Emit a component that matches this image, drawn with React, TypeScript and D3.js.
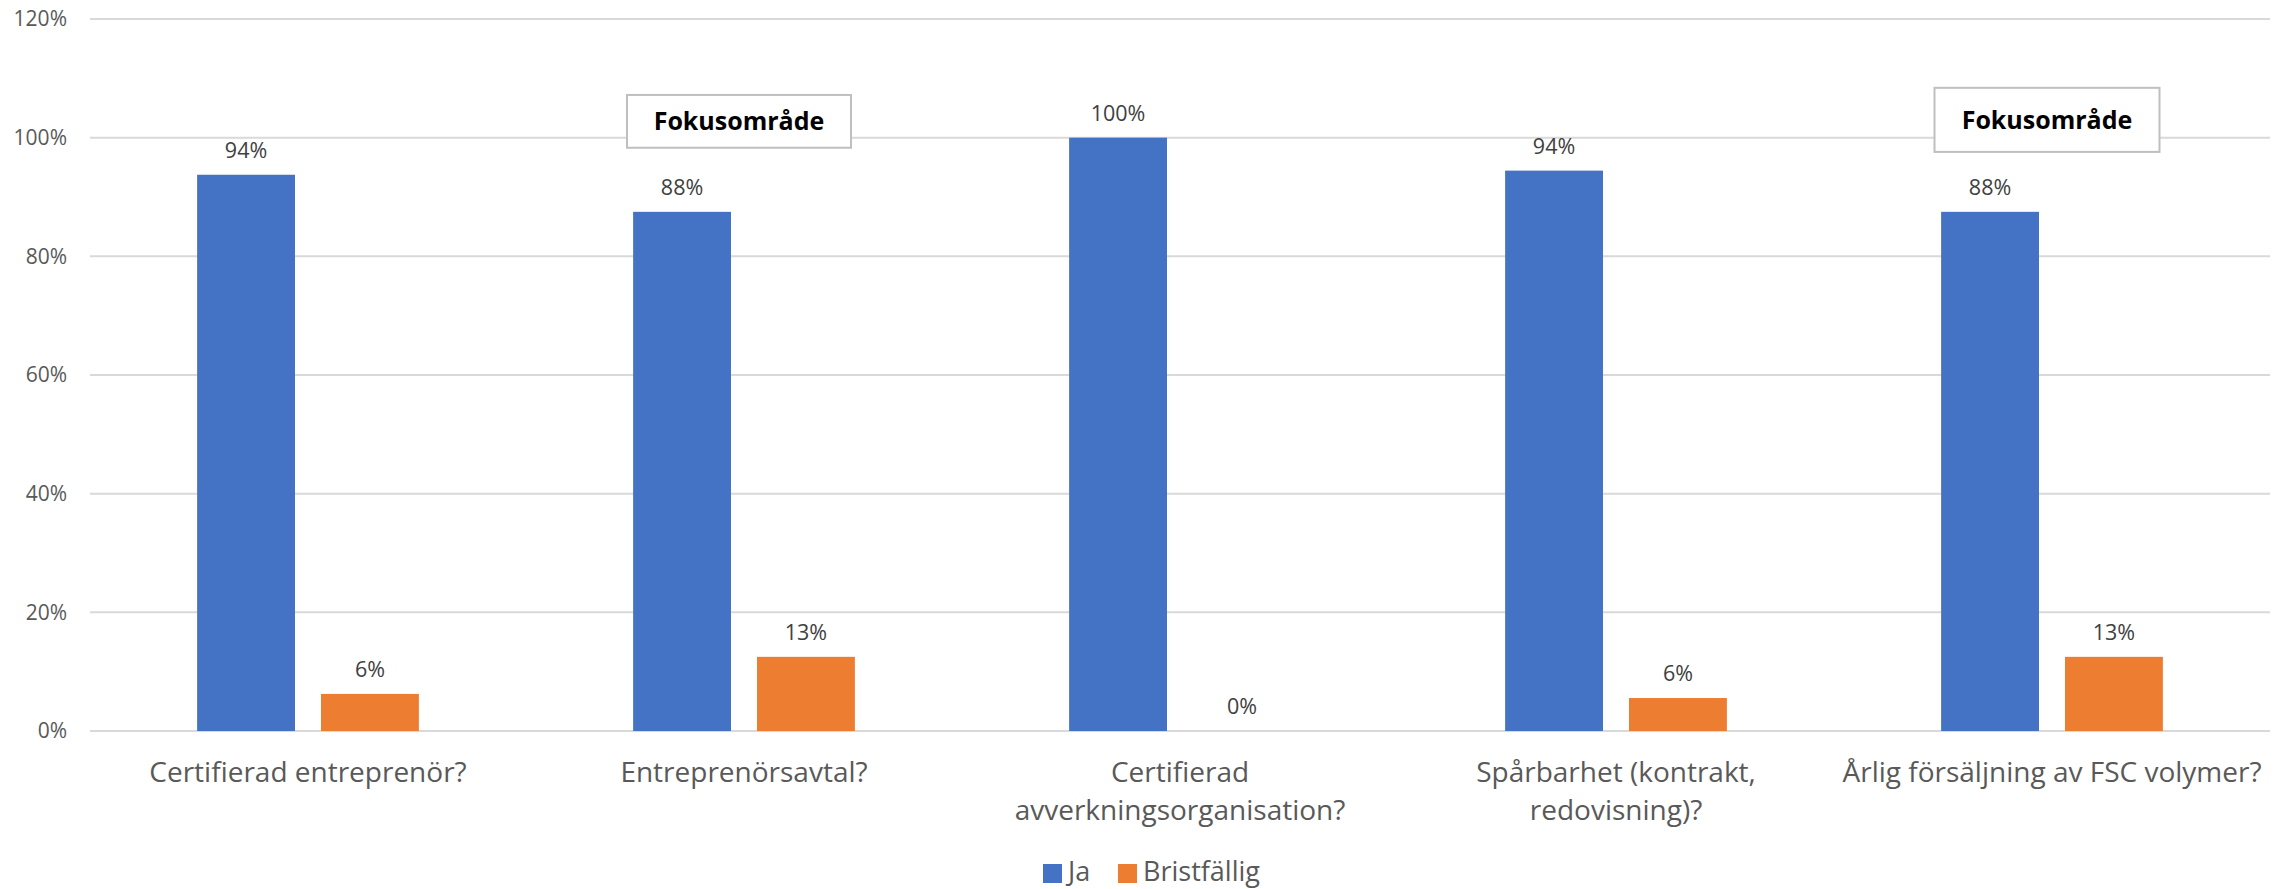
import React, { useEffect } from "react";
import * as d3 from "d3";

const categories: string[][] = [
  ["Certifierad entreprenör?"],
  ["Entreprenörsavtal?"],
  ["Certifierad", "avverkningsorganisation?"],
  ["Spårbarhet (kontrakt,", "redovisning)?"],
  ["Årlig försäljning av FSC volymer?"],
];
const jaValues = [15 / 16, 7 / 8, 1.0, 17 / 18, 7 / 8];
const bristValues = [1 / 16, 1 / 8, 0, 1 / 18, 1 / 8];
const jaLabels = ["94%", "88%", "100%", "94%", "88%"];
const bristLabels = ["6%", "13%", "0%", "6%", "13%"];
const yTicks = [0, 0.2, 0.4, 0.6, 0.8, 1.0, 1.2];
const seriesNames = ["Ja", "Bristfällig"];
const seriesColors = ["#4472C4", "#ED7D31"];
// annotation boxes: category index, top/bottom values
const annotations = [
  { cat: 1, text: "Fokusområde", top: 1.072, bottom: 0.983, width: 224 },
  { cat: 4, text: "Fokusområde", top: 1.084, bottom: 0.976, width: 225 },
];

const W = 2292;
const H = 889;
const FONT = "'Open Sans', sans-serif";

export default function App() {
  useEffect(() => {
    document.body.style.margin = "0";
  }, []);
  const left = 90;
  const right = 2270;
  const y = d3.scaleLinear().domain([0, 1.2]).range([731, 19]);
  const x = d3
    .scaleBand<number>()
    .domain(categories.map((_, i) => i))
    .range([left, right]);
  const bw = x.bandwidth();
  const barW = bw * 0.2245;
  const gap = 26;
  const series = [jaValues, bristValues];
  const labels = [jaLabels, bristLabels];
  const fmt = d3.format(".0%");

  return (
    <svg width={W} height={H} style={{ display: "block", background: "#fff" }}>
      {yTicks.map((t) => (
        <g key={t}>
          <line x1={left} x2={right} y1={y(t)} y2={y(t)} stroke="#d9d9d9" strokeWidth={2} />
          <text
            x={67}
            y={y(t)}
            dy="0.35em"
            textAnchor="end"
            fontFamily={FONT}
            fontSize={21}
            fill="#595959"
          >
            {fmt(t)}
          </text>
        </g>
      ))}
      {categories.map((_, i) => {
        const cx = (x(i) as number) + bw / 2;
        return (
          <g key={i}>
            {series.map((vals, s) => {
              const bx = s === 0 ? cx - gap / 2 - barW : cx + gap / 2;
              return (
                <g key={s}>
                  <rect
                    x={bx}
                    y={y(vals[i])}
                    width={barW}
                    height={y(0) - y(vals[i])}
                    fill={seriesColors[s]}
                  />
                  <text
                    x={bx + barW / 2}
                    y={y(vals[i]) - 17}
                    textAnchor="middle"
                    fontFamily={FONT}
                    fontSize={21.5}
                    fill="#404040"
                  >
                    {labels[s][i]}
                  </text>
                </g>
              );
            })}
            {categories[i].map((line, li) => (
              <text
                key={li}
                x={cx}
                y={782 + li * 38}
                textAnchor="middle"
                fontFamily={FONT}
                fontSize={28}
                fill="#595959"
              >
                {line}
              </text>
            ))}
          </g>
        );
      })}
      {annotations.map((a, i) => {
        const cx = (x(a.cat) as number) + bw / 2 - 5;
        const yt = y(a.top);
        const yb = y(a.bottom);
        return (
          <g key={i}>
            <rect
              x={cx - a.width / 2}
              y={yt}
              width={a.width}
              height={yb - yt}
              fill="#fff"
              stroke="#bfbfbf"
              strokeWidth={2}
            />
            <text
              x={cx}
              y={(yt + yb) / 2}
              dy="0.35em"
              textAnchor="middle"
              fontFamily={FONT}
              fontWeight="bold"
              fontSize={25}
              fill="#000"
            >
              {a.text}
            </text>
          </g>
        );
      })}
      <g>
        {seriesNames.map((n, s) => {
          const lx = s === 0 ? 1043 : 1118;
          return (
            <g key={n}>
              <rect x={lx} y={864} width={19} height={19} fill={seriesColors[s]} />
              <text x={lx + 25} y={881} fontFamily={FONT} fontSize={27} fill="#595959">
                {n}
              </text>
            </g>
          );
        })}
      </g>
    </svg>
  );
}
